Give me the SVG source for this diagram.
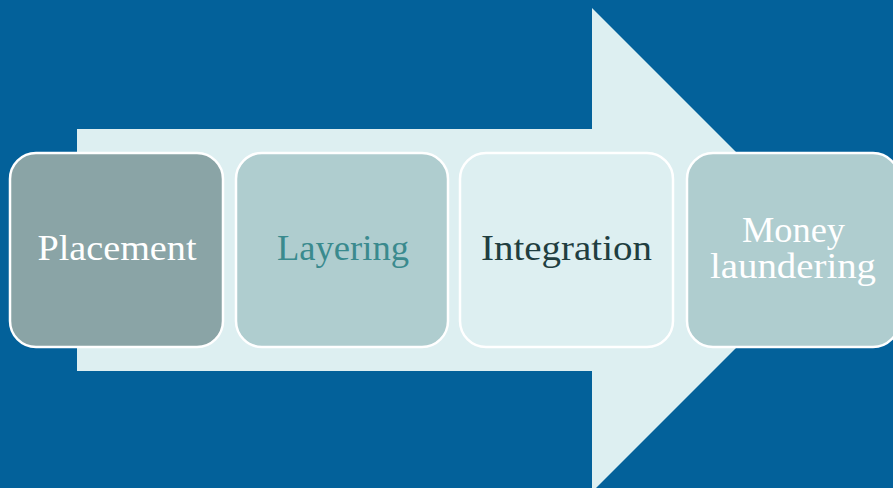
<svg xmlns="http://www.w3.org/2000/svg" width="893" height="488" viewBox="0 0 893 488">
<style>
.box{stroke:#FFFFFF;stroke-width:2.5}
.t{font-family:"Liberation Serif","DejaVu Serif",serif;font-size:35px;text-anchor:middle}
</style>
<rect x="0" y="0" width="893" height="488" fill="#03619A"/>
<polygon id="arrow" points="77,129 592,129 592,8 834,250 592,492 592,371 77,371" fill="#DDEFF1"/>
<g id="placement">
<rect class="box" x="10" y="153" width="213" height="194" rx="26" fill="#8AA4A6"/>
<text class="t" x="117" y="260" fill="#FFFFFF" textLength="159" lengthAdjust="spacingAndGlyphs">Placement</text>
</g>
<g id="layering">
<rect class="box" x="236" y="153" width="212" height="194" rx="26" fill="#AFCDCF"/>
<text class="t" x="343" y="260" fill="#3A8A8E" textLength="132" lengthAdjust="spacingAndGlyphs">Layering</text>
</g>
<g id="integration">
<rect class="box" x="460" y="153" width="213" height="194" rx="26" fill="#DDEFF1"/>
<text class="t" x="566.5" y="260" fill="#1F3E40" textLength="171" lengthAdjust="spacingAndGlyphs">Integration</text>
</g>
<g id="money-laundering">
<rect class="box" x="687" y="153" width="212" height="194" rx="26" fill="#AFCDCF"/>
<text class="t" x="793.5" y="242" fill="#FFFFFF" textLength="103" lengthAdjust="spacingAndGlyphs">Money</text>
<text class="t" x="793" y="278" fill="#FFFFFF" textLength="166" lengthAdjust="spacingAndGlyphs">laundering</text>
</g>
<g id="connectors"></g>
</svg>
